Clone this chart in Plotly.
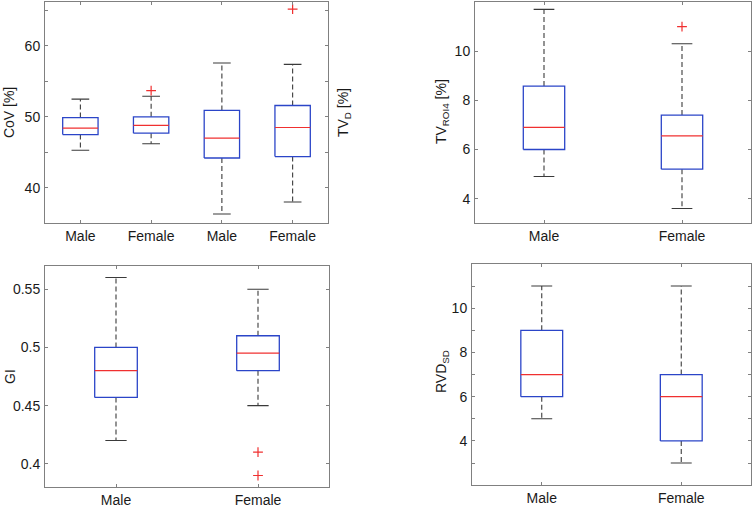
import plotly.graph_objects as go

# ---------------- data ----------------
cov_tv_cats = ["Male", "Female", "Male", "Female"]
cov_tv_q1 = [47.5, 47.7, 44.2, 44.4]
cov_tv_median = [48.4, 48.8, 47.0, 48.5]
cov_tv_q3 = [49.9, 50.0, 50.9, 51.6]
cov_tv_lower = [45.3, 46.2, 36.3, 38.0]
cov_tv_upper = [52.5, 52.9, 57.6, 57.4]
cov_tv_outliers = [[], [53.7], [], [65.2]]

roi_cats = ["Male", "Female"]
roi_q1 = [6.0, 5.2]
roi_median = [6.9, 6.55]
roi_q3 = [8.58, 7.4]
roi_lower = [4.9, 3.6]
roi_upper = [11.7, 10.3]
roi_outliers = [[], [11.0]]

gi_cats = ["Male", "Female"]
gi_q1 = [0.457, 0.48]
gi_median = [0.48, 0.495]
gi_q3 = [0.50, 0.51]
gi_lower = [0.42, 0.45]
gi_upper = [0.56, 0.55]
gi_outliers = [[], [0.41, 0.39]]

rvd_cats = ["Male", "Female"]
rvd_q1 = [6, 4]
rvd_median = [7, 6]
rvd_q3 = [9, 7]
rvd_lower = [5, 3]
rvd_upper = [11, 11]
rvd_outliers = [[], []]

# ---------------- styles ----------------
BOX_COLOR = "#2b45c8"
MED_COLOR = "#f03030"
WHISK_COLOR = "#3a3a3a"
AXIS_COLOR = "#808080"
FONT = "Liberation Sans, Arial, Helvetica, sans-serif"

fig = go.Figure()


def add_boxes(xa, ya, cats, q1, med, q3, lo, hi, outl, width):
    hw = width / 2.0
    cw = width / 4.0
    bx, by, mx, my, wx, wy, cx, cy, ox, oy = [], [], [], [], [], [], [], [], [], []
    for i in range(len(cats)):
        p = i + 1
        bx += [p - hw, p + hw, p + hw, p - hw, p - hw, None]
        by += [q1[i], q1[i], q3[i], q3[i], q1[i], None]
        mx += [p - hw, p + hw, None]
        my += [med[i], med[i], None]
        wx += [p, p, None, p, p, None]
        wy += [q3[i], hi[i], None, q1[i], lo[i], None]
        cx += [p - cw, p + cw, None, p - cw, p + cw, None]
        cy += [hi[i], hi[i], None, lo[i], lo[i], None]
        for v in outl[i]:
            ox.append(p)
            oy.append(v)
    common = dict(xaxis=xa, yaxis=ya, mode="lines", hoverinfo="skip", showlegend=False)
    fig.add_trace(go.Scatter(x=wx, y=wy, line=dict(color=WHISK_COLOR, width=1.1, dash="5px,3px"), **common))
    fig.add_trace(go.Scatter(x=cx, y=cy, line=dict(color=WHISK_COLOR, width=1.1), **common))
    fig.add_trace(go.Scatter(x=bx, y=by, line=dict(color=BOX_COLOR, width=1.3), **common))
    fig.add_trace(go.Scatter(x=mx, y=my, line=dict(color=MED_COLOR, width=1.2), **common))
    if ox:
        fig.add_trace(go.Scatter(x=ox, y=oy, xaxis=xa, yaxis=ya, mode="markers", hoverinfo="skip",
                                 showlegend=False,
                                 marker=dict(symbol="cross-thin", size=7, line=dict(color=MED_COLOR, width=1.2))))


add_boxes("x", "y", cov_tv_cats, cov_tv_q1, cov_tv_median, cov_tv_q3, cov_tv_lower, cov_tv_upper, cov_tv_outliers, 0.5)
add_boxes("x2", "y2", roi_cats, roi_q1, roi_median, roi_q3, roi_lower, roi_upper, roi_outliers, 0.3)
add_boxes("x3", "y3", gi_cats, gi_q1, gi_median, gi_q3, gi_lower, gi_upper, gi_outliers, 0.3)
add_boxes("x4", "y4", rvd_cats, rvd_q1, rvd_median, rvd_q3, rvd_lower, rvd_upper, rvd_outliers, 0.3)

W, H = 756, 508


def px_x(v):
    return v / W


def px_y(v):
    return 1 - v / H


def xax(domain, cats, anchor):
    return dict(domain=domain, range=[0.5, len(cats) + 0.5], tickvals=list(range(1, len(cats) + 1)),
                ticktext=cats, anchor=anchor, showgrid=False, zeroline=False, showline=True,
                linecolor=AXIS_COLOR, linewidth=1, mirror="ticks", ticks="inside", ticklen=3,
                tickcolor=AXIS_COLOR, tickfont=dict(family=FONT, size=14, color="#1a1a1a"),
                fixedrange=True)


def yax(domain, rng, tickvals, anchor, minor_dtick=None):
    d = dict(domain=domain, range=rng, tickvals=tickvals, anchor=anchor, showgrid=False, zeroline=False,
             showline=True, linecolor=AXIS_COLOR, linewidth=1, mirror="ticks", ticks="inside", ticklen=3,
             tickcolor=AXIS_COLOR, tickfont=dict(family=FONT, size=14, color="#1a1a1a"),
             ticklabelstandoff=1, fixedrange=True)
    if minor_dtick:
        d["minor"] = dict(dtick=minor_dtick, ticks="inside", ticklen=3, tickcolor=AXIS_COLOR, showgrid=False)
    return d


fig.update_layout(
    width=W, height=H,
    margin=dict(l=0, r=0, t=0, b=0),
    paper_bgcolor="white", plot_bgcolor="white",
    font=dict(family=FONT, color="#1a1a1a"),
    xaxis=xax([px_x(45), px_x(328)], cov_tv_cats, "y"),
    yaxis=yax([px_y(225), px_y(2)], [35, 66.2], [40, 50, 60], "x", 5),
    xaxis2=xax([px_x(475), px_x(751)], roi_cats, "y2"),
    yaxis2=yax([px_y(225), px_y(2)], [3, 12], [4, 6, 8, 10], "x2"),
    xaxis3=xax([px_x(45), px_x(329)], gi_cats, "y3"),
    yaxis3=yax([px_y(491), px_y(268)], [0.38, 0.57], [0.4, 0.45, 0.5, 0.55], "x3"),
    xaxis4=xax([px_x(472), px_x(751)], rvd_cats, "y4"),
    yaxis4=yax([px_y(489), px_y(266)], [2, 12], [4, 6, 8, 10], "x4", 1),
)

# y-axis titles as annotations
titles = [
    ("CoV [%]", 9, 114),
    ("TV<sub>D</sub> [%]", 344, 114),
    ("TV<sub>ROI4</sub> [%]", 442, 113),
    ("GI", 10, 380),
    ("RVD<sub>SD</sub>", 442, 375),
]
for txt, xp, yp in titles:
    fig.add_annotation(text=txt, x=px_x(xp), y=px_y(yp), xref="paper", yref="paper",
                       textangle=-90, showarrow=False, xanchor="center", yanchor="middle",
                       font=dict(family=FONT, size=14, color="#1a1a1a"))

# remove the page's default 8px body margin so the figure fills the window
fig.write_html("out.html", config={"displayModeBar": False},
               post_script="document.body.style.margin='0';document.body.style.overflow='hidden';")
